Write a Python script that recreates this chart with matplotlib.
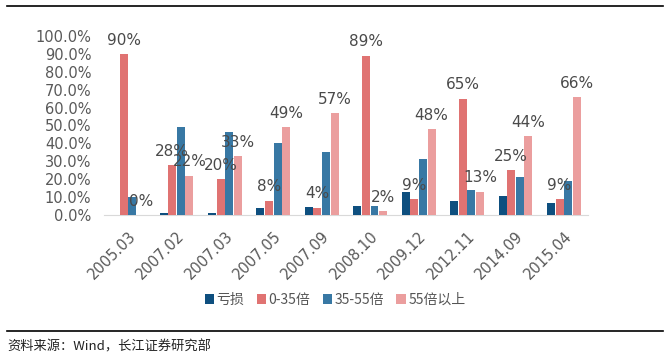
import numpy as np
import matplotlib
matplotlib.use('Agg')
import matplotlib.pyplot as plt
from matplotlib.ticker import FuncFormatter

plt.rcParams['font.family'] = ['DejaVu Sans', 'Noto Sans CJK SC']

# --- Data ---
dates = ['2005.03', '2007.02', '2007.03', '2007.05', '2007.09',
         '2008.10', '2009.12', '2012.11', '2014.09', '2015.04']
series_names = ['亏损', '0-35倍', '35-55倍', '55倍以上']
loss = [0.0, 1.3, 1.3, 4.0, 4.5, 5.0, 12.7, 7.8, 10.6, 6.9]
pe_0_35 = [90, 28, 20, 8, 4, 89, 9, 65, 25, 9]
pe_35_55 = [10, 49, 46.5, 40, 35, 5, 31, 14, 21, 19]
pe_55_up = [0, 22, 33, 49, 57, 2, 48, 13, 44, 66]

colors = ['#0e4f7f', '#e07372', '#3878a4', '#eb9e9e']

# --- Figure ---
fig = plt.figure(figsize=(6.66, 3.63), dpi=100)
ax = fig.add_axes([0.156, 0.408, 0.727, 0.493])

x = np.arange(len(dates))
width = 0.165
step = 0.178
all_series = [loss, pe_0_35, pe_35_55, pe_55_up]
for i, (vals, name, c) in enumerate(zip(all_series, series_names, colors)):
    pos = x + (i - 1.5) * step
    ax.bar(pos, np.array(vals) / 100, width=width, color=c, label=name, zorder=3)
    # labels only on 0-35 and 55+ series
    if i in (1, 3):
        for px, v in zip(pos, vals):
            ax.text(px, v / 100 + 0.035, f'{v:.0f}%', ha='center', va='bottom',
                    fontsize=11, color='#4a4a4a', clip_on=False, zorder=4)

ax.set_xlim(-0.5, len(dates) - 0.5)
ax.set_ylim(0, 1.0)
ax.set_yticks(np.arange(0, 1.01, 0.1))
ax.yaxis.set_major_formatter(FuncFormatter(lambda v, p: f'{v*100:.1f}%'))
ax.set_xticks(x)
ax.set_xticklabels(dates, rotation=45, ha='right', rotation_mode='anchor')
ax.tick_params(axis='both', length=0, labelsize=10.5, labelcolor='#595959')
ax.tick_params(axis='x', pad=10)
ax.tick_params(axis='y', pad=9)

for side in ['top', 'right', 'left']:
    ax.spines[side].set_visible(False)
ax.spines['bottom'].set_color('#d9d9d9')

leg = fig.legend(loc='center', bbox_to_anchor=(0.503, 0.174), ncol=4, frameon=False,
                 handlelength=0.7, handleheight=0.7, handletextpad=0.15,
                 columnspacing=0.9, prop={'family': ['Noto Sans CJK SC'], 'size': 10})
for t in leg.get_texts():
    t.set_color('#555555')

# frame lines and source
fig.add_artist(plt.Line2D([0.011, 0.995], [0.983, 0.983], color='black', lw=1.2))
fig.add_artist(plt.Line2D([0.011, 0.995], [0.088, 0.088], color='black', lw=1.2))
fig.text(0.011, 0.044, '资料来源：Wind，长江证券研究部', fontsize=9.5,
         family=['Noto Sans CJK SC'], color='#222222', va='center')

fig.savefig('out.png', dpi=100)
